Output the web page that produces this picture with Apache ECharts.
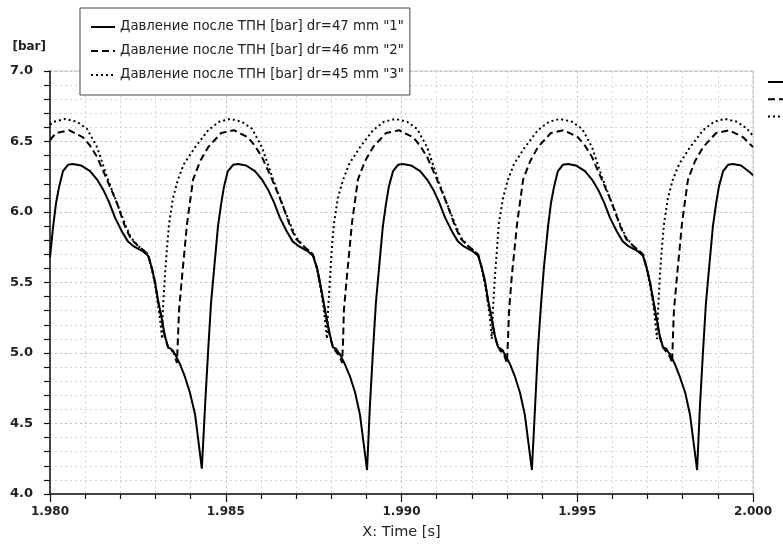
<!DOCTYPE html>
<html><head><meta charset="utf-8">
<script src="https://cdn.jsdelivr.net/npm/echarts@6/dist/echarts.min.js"></script>
<style>html,body{margin:0;padding:0;background:#fff}#c{width:783px;height:545px}</style>
</head><body><div id="c"></div>
<script>
const seriesNames = [
  'Давление после ТПН [bar] dr=47 mm "1"',
  'Давление после ТПН [bar] dr=46 mm "2"',
  'Давление после ТПН [bar] dr=45 mm "3"'
];
const xTicks = [1.980, 1.985, 1.990, 1.995, 2.000];
const yTicks = [4.0, 4.5, 5.0, 5.5, 6.0, 6.5, 7.0];

// Series 1 (solid, dr=47 mm)
const t1 = [
1.98000,1.98009,1.98017,1.98026,1.98037,1.98051,1.98065,1.98088,1.98114,1.98134,1.98151,1.98168,1.98185,1.98205,1.98222,1.98236,1.98250,1.98265,1.98279,1.98290,1.98299,1.98307,1.98316,1.98327,1.98336,1.98344,1.98350,1.98356,1.98370,1.98384,1.98398,1.98413,1.98432,
1.98441,1.98450,1.98458,1.98467,1.98478,1.98487,1.98495,1.98506,1.98521,1.98535,1.98558,1.98583,1.98603,1.98620,1.98637,1.98654,1.98674,1.98691,1.98706,1.98720,1.98734,1.98748,1.98760,1.98768,1.98777,1.98785,1.98797,1.98805,1.98814,1.98819,1.98825,1.98839,1.98854,1.98868,1.98882,1.98902,
1.98910,1.98919,1.98927,1.98936,1.98947,1.98956,1.98964,1.98976,1.98990,1.99004,1.99027,1.99053,1.99073,1.99090,1.99107,1.99124,1.99144,1.99161,1.99175,1.99189,1.99203,1.99218,1.99229,1.99238,1.99246,1.99255,1.99266,1.99275,1.99283,1.99289,1.99294,1.99309,1.99323,1.99337,1.99351,1.99371,
1.99380,1.99388,1.99397,1.99405,1.99417,1.99425,1.99434,1.99445,1.99459,1.99474,1.99496,1.99522,1.99542,1.99559,1.99576,1.99593,1.99613,1.99630,1.99644,1.99659,1.99673,1.99687,1.99698,1.99707,1.99716,1.99724,1.99735,1.99744,1.99753,1.99758,1.99764,1.99778,1.99792,1.99807,1.99821,1.99841,
1.99849,1.99858,1.99866,1.99875,1.99886,1.99895,1.99903,1.99915,1.99929,1.99943,1.99966,1.99992,2.00000
];
const v1 = [
5.68,5.90,6.06,6.18,6.29,6.335,6.34,6.33,6.29,6.23,6.16,6.07,5.96,5.86,5.79,5.76,5.74,5.72,5.69,5.60,5.50,5.38,5.27,5.12,5.04,5.03,5.01,4.99,4.92,4.83,4.72,4.56,4.18,
4.62,5.02,5.35,5.60,5.90,6.06,6.18,6.29,6.335,6.34,6.33,6.29,6.23,6.16,6.07,5.96,5.86,5.79,5.76,5.74,5.72,5.69,5.60,5.50,5.38,5.27,5.12,5.04,5.03,5.01,4.99,4.92,4.83,4.72,4.56,4.17,
4.62,5.02,5.35,5.60,5.90,6.06,6.18,6.29,6.335,6.34,6.33,6.29,6.23,6.16,6.07,5.96,5.86,5.79,5.76,5.74,5.72,5.69,5.60,5.50,5.38,5.27,5.12,5.04,5.03,5.01,4.99,4.92,4.83,4.72,4.56,4.17,
4.62,5.02,5.35,5.60,5.90,6.06,6.18,6.29,6.335,6.34,6.33,6.29,6.23,6.16,6.07,5.96,5.86,5.79,5.76,5.74,5.72,5.69,5.60,5.50,5.38,5.27,5.12,5.04,5.03,5.01,4.99,4.92,4.83,4.72,4.56,4.17,
4.62,5.02,5.35,5.60,5.90,6.06,6.18,6.29,6.335,6.34,6.33,6.28,6.26
];

// Series 2 (dashed, dr=46 mm)
const t2 = [
1.98000,1.98017,1.98054,1.98094,1.98114,1.98134,1.98162,1.98191,1.98213,1.98230,1.98250,1.98265,1.98279,1.98290,1.98299,1.98307,1.98316,1.98327,1.98336,1.98344,1.98350,1.98356,1.98361,
1.98364,1.98367,1.98376,1.98390,1.98407,1.98427,1.98450,1.98487,1.98523,1.98563,1.98583,1.98603,1.98632,1.98660,1.98683,1.98700,1.98720,1.98734,1.98748,1.98760,1.98768,1.98777,1.98785,1.98797,1.98805,1.98814,1.98819,1.98825,1.98831,
1.98834,1.98836,1.98845,1.98859,1.98876,1.98896,1.98919,1.98956,1.98993,1.99033,1.99053,1.99073,1.99101,1.99129,1.99152,1.99169,1.99189,1.99203,1.99218,1.99229,1.99238,1.99246,1.99255,1.99266,1.99275,1.99283,1.99289,1.99294,1.99300,
1.99303,1.99306,1.99314,1.99329,1.99346,1.99366,1.99388,1.99425,1.99462,1.99502,1.99522,1.99542,1.99570,1.99599,1.99622,1.99639,1.99659,1.99673,1.99687,1.99698,1.99707,1.99716,1.99724,1.99735,1.99744,1.99753,1.99758,1.99764,1.99770,
1.99772,1.99775,1.99784,1.99798,1.99815,1.99835,1.99858,1.99895,1.99932,1.99972,1.99992,2.00000
];
const v2 = [
6.51,6.56,6.58,6.53,6.47,6.39,6.23,6.06,5.90,5.81,5.76,5.73,5.70,5.60,5.50,5.37,5.26,5.11,5.04,5.01,5.02,4.97,4.93,
5.10,5.30,5.55,5.92,6.23,6.36,6.46,6.56,6.58,6.53,6.47,6.39,6.23,6.06,5.90,5.81,5.76,5.73,5.70,5.60,5.50,5.37,5.26,5.11,5.04,5.01,5.02,4.97,4.93,
5.10,5.30,5.55,5.92,6.23,6.36,6.46,6.56,6.58,6.53,6.47,6.39,6.23,6.06,5.90,5.81,5.76,5.73,5.70,5.60,5.50,5.37,5.26,5.11,5.04,5.01,5.02,4.97,4.93,
5.10,5.30,5.55,5.92,6.23,6.36,6.46,6.56,6.58,6.53,6.47,6.39,6.23,6.06,5.90,5.81,5.76,5.73,5.70,5.60,5.50,5.37,5.26,5.11,5.04,5.01,5.02,4.97,4.93,
5.10,5.30,5.55,5.92,6.23,6.36,6.46,6.56,6.58,6.53,6.48,6.46
];

// Series 3 (dotted, dr=45 mm)
const t3 = [
1.98000,1.98011,1.98043,1.98077,1.98105,1.98134,1.98162,1.98191,1.98216,1.98230,1.98250,1.98265,1.98279,1.98290,1.98299,1.98307,1.98313,1.98319,
1.98321,1.98327,1.98333,1.98339,1.98350,1.98364,1.98381,1.98413,1.98450,1.98481,1.98512,1.98546,1.98575,1.98603,1.98632,1.98660,1.98686,1.98700,1.98720,1.98734,1.98748,1.98760,1.98768,1.98777,1.98782,1.98788,
1.98791,1.98797,1.98802,1.98808,1.98819,1.98834,1.98851,1.98882,1.98919,1.98950,1.98982,1.99016,1.99044,1.99073,1.99101,1.99129,1.99155,1.99169,1.99189,1.99203,1.99218,1.99229,1.99238,1.99246,1.99252,1.99257,
1.99260,1.99266,1.99272,1.99277,1.99289,1.99303,1.99320,1.99351,1.99388,1.99420,1.99451,1.99485,1.99514,1.99542,1.99570,1.99599,1.99624,1.99639,1.99659,1.99673,1.99687,1.99698,1.99707,1.99716,1.99721,1.99727,
1.99730,1.99735,1.99741,1.99747,1.99758,1.99772,1.99790,1.99821,1.99858,1.99889,1.99920,1.99955,1.99983,2.00000
];
const v3 = [
6.62,6.64,6.66,6.64,6.59,6.46,6.25,6.06,5.90,5.82,5.76,5.73,5.70,5.59,5.48,5.35,5.24,5.10,
5.30,5.55,5.75,5.92,6.10,6.23,6.34,6.46,6.58,6.64,6.66,6.64,6.59,6.46,6.25,6.06,5.90,5.82,5.76,5.73,5.70,5.59,5.48,5.35,5.24,5.10,
5.30,5.55,5.75,5.92,6.10,6.23,6.34,6.46,6.58,6.64,6.66,6.64,6.59,6.46,6.25,6.06,5.90,5.82,5.76,5.73,5.70,5.59,5.48,5.35,5.24,5.10,
5.30,5.55,5.75,5.92,6.10,6.23,6.34,6.46,6.58,6.64,6.66,6.64,6.59,6.46,6.25,6.06,5.90,5.82,5.76,5.73,5.70,5.59,5.48,5.35,5.24,5.10,
5.30,5.55,5.75,5.92,6.10,6.23,6.34,6.46,6.58,6.64,6.66,6.64,6.59,6.54
];

const zip = (t, v) => t.map((x, i) => [x, v[i]]);
const FONT = 'DejaVu Sans';
const lineTypes = ['solid', [7, 4], [2, 3]];
const allData = [zip(t1, v1), zip(t2, v2), zip(t3, v3)];

const chart = echarts.init(document.getElementById('c'), null, {renderer: 'canvas'});
chart.setOption({
  animation: false,
  backgroundColor: '#fff',
  textStyle: {fontFamily: FONT},
  grid: {left: 50, right: 30, top: 71, bottom: 51, show: true, borderColor: '#c8c8c8', borderWidth: 1, containLabel: false},
  legend: [{
    data: seriesNames, orient: 'vertical', left: 80, top: 8,
    padding: [11, 6, 12, 10], itemGap: 8, itemWidth: 24, itemHeight: 14,
    backgroundColor: '#fff', borderColor: '#444', borderWidth: 1,
    selectedMode: false,
    itemStyle: {opacity: 0},
    lineStyle: {opacity: 1},
    textStyle: {fontFamily: FONT, fontSize: 13.3, color: '#222', lineHeight: 16}
  }, {
    data: seriesNames, orient: 'vertical', left: 767, top: 76,
    padding: 0, itemGap: 6.5, itemWidth: 26, itemHeight: 12,
    selectedMode: false, formatter: () => '',
    itemStyle: {opacity: 0},
    lineStyle: {opacity: 1},
    textStyle: {fontSize: 1}
  }],
  xAxis: {
    type: 'value', min: xTicks[0], max: xTicks[xTicks.length - 1], interval: 0.005,
    name: 'X: Time [s]', nameLocation: 'middle', nameGap: 31,
    nameTextStyle: {fontFamily: FONT, fontSize: 14.5, color: '#222'},
    axisLine: {show: true, onZero: false, lineStyle: {color: '#111', width: 1.5}},
    axisTick: {show: true, inside: false, length: 8, lineStyle: {color: '#111', width: 1.2}},
    minorTick: {show: true, splitNumber: 5, length: 5, lineStyle: {color: '#111', width: 1.2}},
    axisLabel: {fontFamily: FONT, fontWeight: 'bold', fontSize: 12, color: '#222', margin: 12,
      formatter: v => v.toFixed(3)},
    splitLine: {show: true, lineStyle: {color: '#bdbdbd', type: [2, 3], width: 1}},
    minorSplitLine: {show: true, lineStyle: {color: '#d6d6d6', type: [2, 3], width: 1}}
  },
  yAxis: {
    type: 'value', min: yTicks[0], max: yTicks[yTicks.length - 1], interval: 0.5,
    name: '[bar]', nameLocation: 'end', nameGap: 24,
    nameTextStyle: {fontFamily: FONT, fontWeight: 'bold', fontSize: 12, color: '#222', align: 'right', verticalAlign: 'middle', padding: [0, 4, 0, 0]},
    axisLine: {show: true, onZero: false, lineStyle: {color: '#111', width: 1.5}},
    axisTick: {show: true, inside: false, length: 6, lineStyle: {color: '#111', width: 1.2}},
    minorTick: {show: true, splitNumber: 5, length: 6, lineStyle: {color: '#111', width: 1.2}},
    axisLabel: {fontFamily: FONT, fontWeight: 'bold', fontSize: 13, color: '#222', margin: 17,
      formatter: v => v.toFixed(1)},
    splitLine: {show: true, lineStyle: {color: '#bdbdbd', type: [2, 3], width: 1}},
    minorSplitLine: {show: true, lineStyle: {color: '#d6d6d6', type: [2, 3], width: 1}}
  },
  series: seriesNames.map((n, i) => ({
    name: n, type: 'line', data: allData[i], showSymbol: false, symbol: 'none',
    smooth: false, clip: true,
    lineStyle: {color: '#000', width: 2, type: lineTypes[i]},
    itemStyle: {color: '#000'},
    z: 3 - i
  }))
});
</script></body></html>
